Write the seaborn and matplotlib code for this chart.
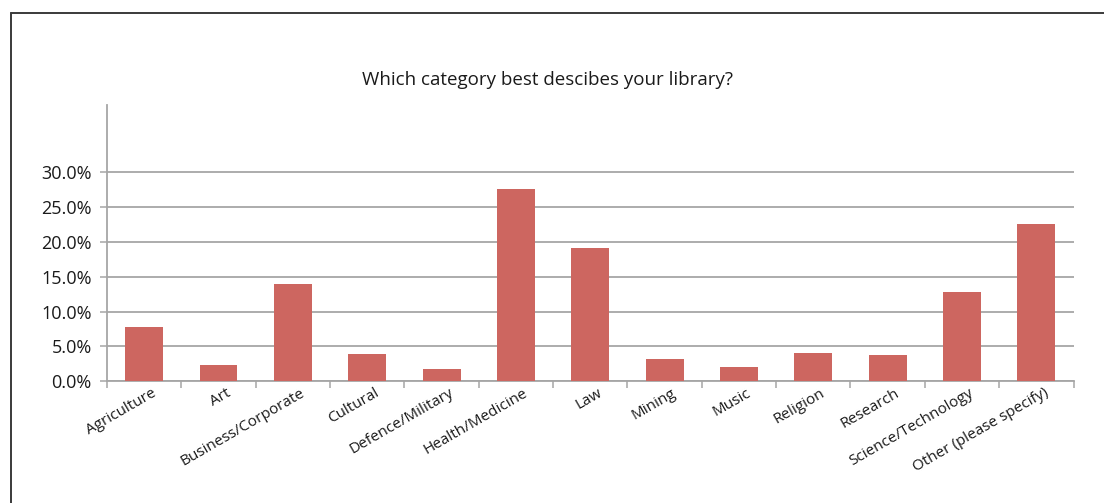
import matplotlib
matplotlib.use("Agg")
import matplotlib.pyplot as plt
import matplotlib.transforms as mtransforms
from matplotlib.lines import Line2D
from matplotlib.ticker import FixedLocator, PercentFormatter
import seaborn as sns
import pandas as pd

categories = ["Agriculture", "Art", "Business/Corporate", "Cultural", "Defence/Military",
              "Health/Medicine", "Law", "Mining", "Music", "Religion", "Research",
              "Science/Technology", "Other (please specify)"]
values = [7.8, 2.3, 13.9, 3.9, 1.7, 27.5, 19.1, 3.2, 2.1, 4.0, 3.8, 12.8, 22.6]
y_ticks = [0, 5, 10, 15, 20, 25, 30]
title = "Which category best descibes your library?"

sns.set_theme(style="white")
plt.rcParams['font.family'] = ['Open Sans', 'DejaVu Sans']

W, H = 1104, 503
fig = plt.figure(figsize=(W / 100, H / 100), dpi=100)
ax = fig.add_axes([107 / W, (H - 381.3) / H, (1073.5 - 107) / W, (381.3 - 105) / H])

df = pd.DataFrame({"category": categories, "value": values})
sns.barplot(data=df, x="category", y="value", color="#CD6660", saturation=1,
            width=0.51, linewidth=0, ax=ax, zorder=3)

grid_c = "#a6a6a6"
ax.set_ylim(0, 39.6)
ax.set_xlim(-0.5, len(categories) - 0.5)
ax.yaxis.set_major_locator(FixedLocator(y_ticks))
ax.yaxis.set_major_formatter(PercentFormatter(decimals=1))
ax.grid(axis="y", color=grid_c, linewidth=1.3, zorder=0)
ax.set_axisbelow(True)
ax.set_xlabel("")
ax.set_ylabel("")

for s in ["top", "right"]:
    ax.spines[s].set_visible(False)
for s in ["left", "bottom"]:
    ax.spines[s].set_color(grid_c)
    ax.spines[s].set_linewidth(1.3)

ax.tick_params(axis="y", which="major", direction="out", length=5, width=1.1,
               color=grid_c, left=True, labelsize=13, labelcolor="#1a1a1a", pad=6)
ax.xaxis.set_minor_locator(FixedLocator([i - 0.5 for i in range(len(categories) + 1)]))
ax.tick_params(axis="x", which="minor", direction="out", length=5, width=1.1,
               color=grid_c, bottom=True)
ax.tick_params(axis="x", which="major", length=0, labelsize=11,
               labelcolor="#1a1a1a", pad=3)

offset = mtransforms.ScaledTranslation(7 / 100, 0, fig.dpi_scale_trans)
for lab in ax.get_xticklabels():
    lab.set_rotation(30)
    lab.set_ha("right")
    lab.set_va("top")
    lab.set_rotation_mode("anchor")
    lab.set_transform(lab.get_transform() + offset)

fig.text(548 / W, (H - 80) / H, title, ha="center", va="center",
         fontsize=13.5, color="#1a1a1a")

# outer frame (partially cropped)
frame_c = "#3a3a3a"
fig.add_artist(Line2D([10.5 / W, 10.5 / W], [0, (H - 13.3) / H],
                      transform=fig.transFigure, color=frame_c, linewidth=1.4))
fig.add_artist(Line2D([10.5 / W, 1], [(H - 13.3) / H, (H - 13.3) / H],
                      transform=fig.transFigure, color=frame_c, linewidth=1.4))

fig.savefig("out.png", dpi=100, facecolor="white")
